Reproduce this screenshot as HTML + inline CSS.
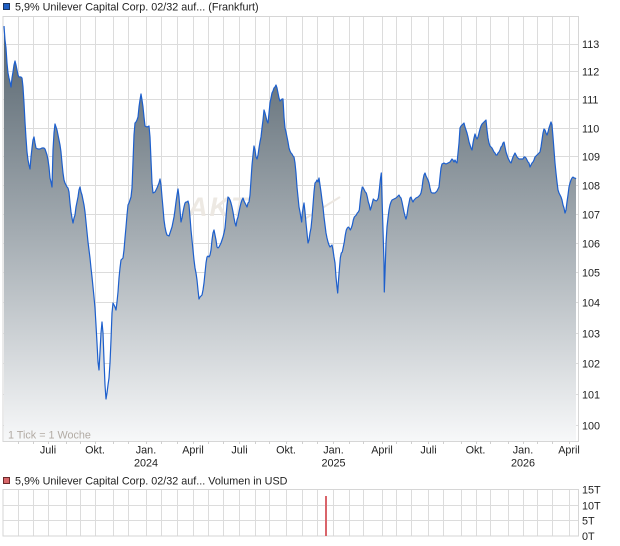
<!DOCTYPE html>
<html>
<head>
<meta charset="utf-8">
<style>
html,body{margin:0;padding:0;background:#fff;}
svg{display:block;font-family:"Liberation Sans",Arial,sans-serif;}
</style>
</head>
<body>
<svg width="620" height="546" viewBox="0 0 620 546" xmlns="http://www.w3.org/2000/svg">
<defs>
<linearGradient id="fg" x1="0" y1="26" x2="0" y2="441" gradientUnits="userSpaceOnUse">
<stop offset="0" stop-color="#55636d"/>
<stop offset="0.5" stop-color="#a4acb2"/>
<stop offset="1" stop-color="#f7f8f9"/>
</linearGradient>
</defs>

<!-- Title -->
<rect x="3.5" y="3.5" width="6" height="6" fill="#1f5fc4" stroke="#1b3560" stroke-width="1"/>
<text x="15" y="10.6" font-size="10.8" fill="#222">5,9% Unilever Capital Corp. 02/32 auf... (Frankfurt)</text>

<!-- Main grid -->
<g stroke="#dcdcdc" stroke-width="1" fill="none">
<path d="M18.5,16V441 M33.5,16V441 M48.5,16V441 M66.5,16V441 M80.5,16V441 M95.5,16V441 M113.5,16V441 M128.5,16V441 M146.5,16V441 M161.5,16V441 M177.5,16V441 M193.5,16V441 M208.5,16V441 M223.5,16V441 M239.5,16V441 M255.5,16V441 M269.5,16V441 M286.5,16V441 M302.5,16V441 M317.5,16V441 M333.5,16V441 M349.5,16V441 M363.5,16V441 M382.5,16V441 M396.5,16V441 M411.5,16V441 M428.5,16V441 M443.5,16V441 M461.5,16V441 M476.5,16V441 M490.5,16V441 M508.5,16V441 M523.5,16V441 M537.5,16V441 M552.5,16V441 M569.5,16V441"/>
<path d="M3,44.5H578 M3,71.5H578 M3,99.5H578 M3,128.5H578 M3,156.5H578 M3,185.5H578 M3,214.5H578 M3,243.5H578 M3,272.5H578 M3,302.5H578 M3,333.5H578 M3,363.5H578 M3,394.5H578 M3,425.5H578"/>
</g>

<!-- Watermark -->
<g fill="#ece7e1" opacity="0.9">
<text x="188" y="216" font-size="27" font-style="italic" font-weight="bold" letter-spacing="2">AKTIEN</text>
</g>
<path d="M303,220 L340,197" stroke="#ece7e1" stroke-width="2" fill="none"/>

<!-- Area fill -->
<path id="area" fill="url(#fg)" stroke="none" d="M4,441 L4,26 5,40 6,48 7,63 8,73 9,78 10,82 11,87 12,78 13,72 14,65 15,61 16,65 17,70 18,75 19,77 21,77 22,78 23,87 24,103 25,122 26,138 27,152 28,160 29,165 30,169 31,157 32,148 33,140 34,137 35,143 36,148 38,149 40,149 42,148 44,148 45,149 46,152 47,155 48,160 49,167 50,178 51,182 52,187 53,150 54,133 55,124 56,127 57,130 58,135 59,140 60,145 61,152 62,163 63,173 64,180 65,183 66,185 67,187 68,188 69,192 70,203 71,212 72,218 73,223 74,218 75,215 76,207 77,202 78,197 79,190 80,187 81,192 82,195 83,200 84,205 85,212 86,222 87,232 88,242 89,250 90,258 91,268 92,277 93,287 94,297 95,308 96,325 97,343 98,362 99,370 100,352 101,333 102,322 103,333 104,360 105,385 106,399 107,393 108,385 109,378 110,363 111,340 112,313 113,303 114,305 115,307 116,310 117,302 118,292 119,278 120,268 121,260 122,259 123,258 124,250 125,238 126,227 127,215 128,205 129,203 130,200 131,197 132,188 133,162 134,135 135,123 136,122 137,120 138,117 139,107 140,100 141,94 142,100 143,107 144,117 145,126 147,127 149,126 150,137 151,160 152,183 153,193 155,192 157,188 159,183 160,179 161,185 162,197 163,208 164,220 165,227 166,232 167,235 169,236 170,233 171,230 172,227 173,222 174,217 175,210 176,202 177,195 178,189 179,197 180,210 181,222 182,218 183,212 184,207 185,203 186,202 187,202 188,201 189,205 190,217 191,230 192,240 193,250 194,260 195,268 196,273 197,280 198,290 199,299 200,297 201,296 202,295 203,290 204,283 205,273 206,263 207,257 208,256 209,257 210,255 211,250 212,240 213,233 214,230 215,235 216,240 217,247 218,248 219,247 220,245 221,243 222,240 223,237 224,233 225,228 226,217 227,205 228,197 229,198 230,200 231,203 232,207 233,212 234,218 235,223 236,226 237,220 238,217 239,212 240,207 241,203 242,200 243,198 244,201 245,203 246,205 247,207 248,203 249,202 250,195 251,180 252,165 253,155 254,146 255,150 256,157 257,159 258,155 259,148 260,142 261,137 262,128 263,120 264,110 265,113 266,117 267,121 268,123 269,113 270,103 271,98 272,93 273,91 274,88 275,87 276,85 277,88 278,93 279,98 280,101 281,100 282,99 283,99 284,117 285,128 286,132 287,137 288,142 289,148 290,151 291,153 292,154 293,156 294,157 295,163 296,173 297,187 298,197 299,207 300,212 301,218 301.7,222 302.3,213 303.3,207 304,203 305,212 306,223 307,233 308,243 309,240 310,233 311,228 312,218 313,205 314,192 315,183 316,182 317,180 318,182 319,178 320,185 321,192 322,200 323,207 324,217 325,225 326,233 327,238 328,242 329,245 330,247 331,246 332,245 333,250 334,257 335,263 336,277 337,287 337.7,293 338.3,283 339.3,270 340.3,258 341.3,253 342.3,252 343.3,247 344.3,242 345.3,235 346.3,230 347.3,228 348.3,227 349.3,228 350.3,230 351.3,228 352.3,225 353.3,220 354.3,217 355.3,216 356.3,215 357.3,213 358.3,212 359.3,210 360.3,200 361.3,192 362.3,187 363.3,188 364.3,190 365.3,192 366.3,193 367.3,197 368.3,202 369.3,205 370.3,210 371.3,207 372.3,203 373.3,199 374.3,200 376.3,201 377.3,200 378.3,198 379.3,190 380.3,180 381.3,173 382,197 383,230 384,263 384.3,292 385,273 386,243 387,227 388,218 389,210 390,205 391,202 392,200 394,199 396,198 398,196 399,195 400,197 401,198 402,202 403,207 404,212 405,216 406,219 407,215 408,208 409,203 410,198 411,197 412,200 413,202 414,200 416,198 418,197 420,195 421,193 422,188 423,180 424,175 425,173 426,176 427,178 428,180 429,183 430,188 431,192 432,193 435,193 437,191 439,187 440,177 441,168 442,164 444,163 446,164 448,163 450,162 452,159 453,160 454,162 455,160 456,162 457,163 458,153 459,143 460,128 461,126 462,125 463,124 464,123 465,127 466,130 467,133 468,137 469,142 470,145 471,148 472,150 473,143 474,138 475,134 476,137 477,139 478,137 479,133 480,129 481,126 482,124 483,123 484,122 485,121 486,120 487,130 488,138 489,143 490,146 491,147 492,148 493,150 494,152 495,153 496,155 497,155 498,153 499,152 500,150 501,147 502,146 503,143 504,142 505,147 506,152 507,155 508,158 509,160 510,162 511,163 512,160 513,157 514,155 515,153 516,155 517,157 518,158 519,159 523,159 524,157 525,157 526,158 527,160 528,162 529,163 530,167 531,165 532,163 533,162 534,160 535,157 536,156 537,155 538,154 539,153 540,152 541,147 542,140 543,133 544,129 545,130 546,133 547,135 548,132 549,128 550,125 551,122 552,125 553,137 554,150 555,163 556,173 557,182 558,190 559,193 560,195 561,197 562,200 563,205 564,208 565,213 566,210 567,202 568,195 569,187 570,183 571,180 572,178 573,177 574,178 575,178 576,179 L576,441 Z"/>

<!-- Line -->
<polyline fill="none" stroke="#1d5fcc" stroke-width="1.2" stroke-linejoin="round" points="4,26 5,40 6,48 7,63 8,73 9,78 10,82 11,87 12,78 13,72 14,65 15,61 16,65 17,70 18,75 19,77 21,77 22,78 23,87 24,103 25,122 26,138 27,152 28,160 29,165 30,169 31,157 32,148 33,140 34,137 35,143 36,148 38,149 40,149 42,148 44,148 45,149 46,152 47,155 48,160 49,167 50,178 51,182 52,187 53,150 54,133 55,124 56,127 57,130 58,135 59,140 60,145 61,152 62,163 63,173 64,180 65,183 66,185 67,187 68,188 69,192 70,203 71,212 72,218 73,223 74,218 75,215 76,207 77,202 78,197 79,190 80,187 81,192 82,195 83,200 84,205 85,212 86,222 87,232 88,242 89,250 90,258 91,268 92,277 93,287 94,297 95,308 96,325 97,343 98,362 99,370 100,352 101,333 102,322 103,333 104,360 105,385 106,399 107,393 108,385 109,378 110,363 111,340 112,313 113,303 114,305 115,307 116,310 117,302 118,292 119,278 120,268 121,260 122,259 123,258 124,250 125,238 126,227 127,215 128,205 129,203 130,200 131,197 132,188 133,162 134,135 135,123 136,122 137,120 138,117 139,107 140,100 141,94 142,100 143,107 144,117 145,126 147,127 149,126 150,137 151,160 152,183 153,193 155,192 157,188 159,183 160,179 161,185 162,197 163,208 164,220 165,227 166,232 167,235 169,236 170,233 171,230 172,227 173,222 174,217 175,210 176,202 177,195 178,189 179,197 180,210 181,222 182,218 183,212 184,207 185,203 186,202 187,202 188,201 189,205 190,217 191,230 192,240 193,250 194,260 195,268 196,273 197,280 198,290 199,299 200,297 201,296 202,295 203,290 204,283 205,273 206,263 207,257 208,256 209,257 210,255 211,250 212,240 213,233 214,230 215,235 216,240 217,247 218,248 219,247 220,245 221,243 222,240 223,237 224,233 225,228 226,217 227,205 228,197 229,198 230,200 231,203 232,207 233,212 234,218 235,223 236,226 237,220 238,217 239,212 240,207 241,203 242,200 243,198 244,201 245,203 246,205 247,207 248,203 249,202 250,195 251,180 252,165 253,155 254,146 255,150 256,157 257,159 258,155 259,148 260,142 261,137 262,128 263,120 264,110 265,113 266,117 267,121 268,123 269,113 270,103 271,98 272,93 273,91 274,88 275,87 276,85 277,88 278,93 279,98 280,101 281,100 282,99 283,99 284,117 285,128 286,132 287,137 288,142 289,148 290,151 291,153 292,154 293,156 294,157 295,163 296,173 297,187 298,197 299,207 300,212 301,218 301.7,222 302.3,213 303.3,207 304,203 305,212 306,223 307,233 308,243 309,240 310,233 311,228 312,218 313,205 314,192 315,183 316,182 317,180 318,182 319,178 320,185 321,192 322,200 323,207 324,217 325,225 326,233 327,238 328,242 329,245 330,247 331,246 332,245 333,250 334,257 335,263 336,277 337,287 337.7,293 338.3,283 339.3,270 340.3,258 341.3,253 342.3,252 343.3,247 344.3,242 345.3,235 346.3,230 347.3,228 348.3,227 349.3,228 350.3,230 351.3,228 352.3,225 353.3,220 354.3,217 355.3,216 356.3,215 357.3,213 358.3,212 359.3,210 360.3,200 361.3,192 362.3,187 363.3,188 364.3,190 365.3,192 366.3,193 367.3,197 368.3,202 369.3,205 370.3,210 371.3,207 372.3,203 373.3,199 374.3,200 376.3,201 377.3,200 378.3,198 379.3,190 380.3,180 381.3,173 382,197 383,230 384,263 384.3,292 385,273 386,243 387,227 388,218 389,210 390,205 391,202 392,200 394,199 396,198 398,196 399,195 400,197 401,198 402,202 403,207 404,212 405,216 406,219 407,215 408,208 409,203 410,198 411,197 412,200 413,202 414,200 416,198 418,197 420,195 421,193 422,188 423,180 424,175 425,173 426,176 427,178 428,180 429,183 430,188 431,192 432,193 435,193 437,191 439,187 440,177 441,168 442,164 444,163 446,164 448,163 450,162 452,159 453,160 454,162 455,160 456,162 457,163 458,153 459,143 460,128 461,126 462,125 463,124 464,123 465,127 466,130 467,133 468,137 469,142 470,145 471,148 472,150 473,143 474,138 475,134 476,137 477,139 478,137 479,133 480,129 481,126 482,124 483,123 484,122 485,121 486,120 487,130 488,138 489,143 490,146 491,147 492,148 493,150 494,152 495,153 496,155 497,155 498,153 499,152 500,150 501,147 502,146 503,143 504,142 505,147 506,152 507,155 508,158 509,160 510,162 511,163 512,160 513,157 514,155 515,153 516,155 517,157 518,158 519,159 523,159 524,157 525,157 526,158 527,160 528,162 529,163 530,167 531,165 532,163 533,162 534,160 535,157 536,156 537,155 538,154 539,153 540,152 541,147 542,140 543,133 544,129 545,130 546,133 547,135 548,132 549,128 550,125 551,122 552,125 553,137 554,150 555,163 556,173 557,182 558,190 559,193 560,195 561,197 562,200 563,205 564,208 565,213 566,210 567,202 568,195 569,187 570,183 571,180 572,178 573,177 574,178 575,178 576,179"/>

<!-- Main border -->
<rect x="3" y="16.5" width="575.5" height="425" fill="none" stroke="#d6d6d6" stroke-width="1"/>

<!-- x ticks -->
<g stroke="#d0d0d0" stroke-width="1">
<path d="M18.5,441V444 M33.5,441V444 M48.5,441V444 M66.5,441V444 M80.5,441V444 M95.5,441V444 M113.5,441V444 M128.5,441V444 M146.5,441V444 M161.5,441V444 M177.5,441V444 M193.5,441V444 M208.5,441V444 M223.5,441V444 M239.5,441V444 M255.5,441V444 M269.5,441V444 M286.5,441V444 M302.5,441V444 M317.5,441V444 M333.5,441V444 M349.5,441V444 M363.5,441V444 M382.5,441V444 M396.5,441V444 M411.5,441V444 M428.5,441V444 M443.5,441V444 M461.5,441V444 M476.5,441V444 M490.5,441V444 M508.5,441V444 M523.5,441V444 M537.5,441V444 M552.5,441V444 M569.5,441V444"/>
</g>

<text x="8" y="438.3" font-size="10.8" fill="#b2aba4">1 Tick = 1 Woche</text>

<!-- Y labels -->
<g font-size="10.8" fill="#222">
<text x="582" y="48">113</text>
<text x="582" y="75.5">112</text>
<text x="582" y="103.5">111</text>
<text x="582" y="132.5">110</text>
<text x="582" y="160.5">109</text>
<text x="582" y="189.5">108</text>
<text x="582" y="218.5">107</text>
<text x="582" y="247.5">106</text>
<text x="582" y="276.5">105</text>
<text x="582" y="306.5">104</text>
<text x="582" y="337.5">103</text>
<text x="582" y="367.5">102</text>
<text x="582" y="398.5">101</text>
<text x="582" y="429.5">100</text>
</g>

<!-- X labels -->
<g font-size="10.8" fill="#222" text-anchor="middle">
<text x="48" y="453.5">Juli</text>
<text x="95" y="453.5">Okt.</text>
<text x="146" y="453.5">Jan.</text>
<text x="146" y="466.5">2024</text>
<text x="193" y="453.5">April</text>
<text x="239.5" y="453.5">Juli</text>
<text x="286" y="453.5">Okt.</text>
<text x="333.5" y="453.5">Jan.</text>
<text x="333.5" y="466.5">2025</text>
<text x="382" y="453.5">April</text>
<text x="428.5" y="453.5">Juli</text>
<text x="475.5" y="453.5">Okt.</text>
<text x="523" y="453.5">Jan.</text>
<text x="523" y="466.5">2026</text>
<text x="569" y="453.5">April</text>
</g>

<!-- Volume legend -->
<rect x="3.5" y="477.5" width="6" height="6" fill="#d9676a" stroke="#6b2a2a" stroke-width="1"/>
<text x="15" y="484.3" font-size="10.8" fill="#222">5,9% Unilever Capital Corp. 02/32 auf... Volumen in USD</text>

<!-- Volume grid -->
<g stroke="#dcdcdc" stroke-width="1" fill="none">
<path d="M18.5,489V536 M33.5,489V536 M48.5,489V536 M66.5,489V536 M80.5,489V536 M95.5,489V536 M113.5,489V536 M128.5,489V536 M146.5,489V536 M161.5,489V536 M177.5,489V536 M193.5,489V536 M208.5,489V536 M223.5,489V536 M239.5,489V536 M255.5,489V536 M269.5,489V536 M286.5,489V536 M302.5,489V536 M317.5,489V536 M333.5,489V536 M349.5,489V536 M363.5,489V536 M382.5,489V536 M396.5,489V536 M411.5,489V536 M428.5,489V536 M443.5,489V536 M461.5,489V536 M476.5,489V536 M490.5,489V536 M508.5,489V536 M523.5,489V536 M537.5,489V536 M552.5,489V536 M569.5,489V536"/>
<path d="M3,505.5H578 M3,520.5H578"/>
<rect x="3" y="489.5" width="575.5" height="46.5" stroke="#d6d6d6"/>
</g>
<rect x="325" y="496" width="2" height="40" fill="#d9646a"/>

<g font-size="10.8" fill="#222">
<text x="582" y="493.3">15T</text>
<text x="582" y="509.5">10T</text>
<text x="582" y="524.5">5T</text>
<text x="582" y="540">0T</text>
</g>
</svg>
</body>
</html>
